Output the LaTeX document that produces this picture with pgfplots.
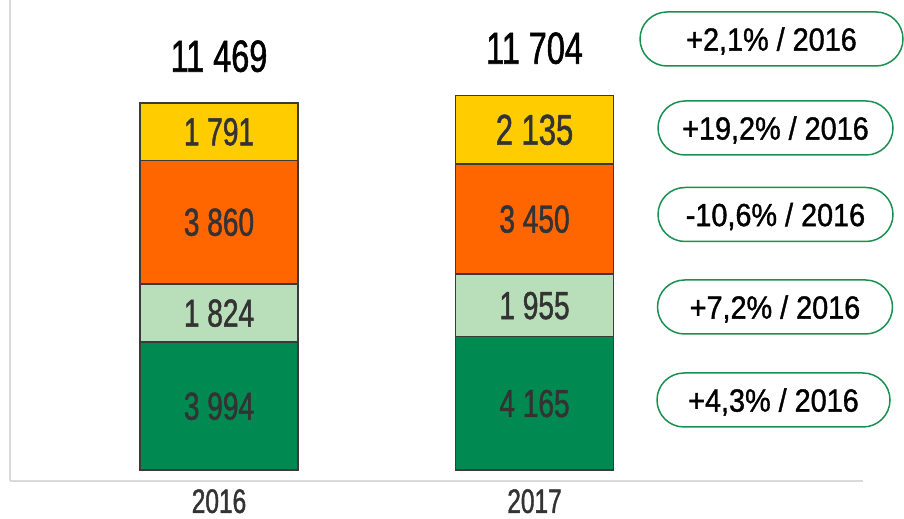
\documentclass[border=0pt]{standalone}
\usepackage{pgfplots}
\pgfplotsset{compat=1.18}
\usepackage{pgfplotstable}
\usepackage{fontspec}
\setmainfont{Liberation Sans}[FakeStretch=0.72, FakeBold=1.2]
\newfontfamily\callfont{Liberation Sans}[FakeStretch=0.9, FakeBold=1.2]
\usetikzlibrary{shapes.misc}
\definecolor{cYellow}{HTML}{FFCC00}
\definecolor{cOrange}{HTML}{FF6600}
\definecolor{cLight}{HTML}{B9DFBA}
\definecolor{cDark}{HTML}{008A51}
\definecolor{cEdge}{HTML}{3A3A3A}
\definecolor{cAxis}{HTML}{D9D9D9}
\definecolor{cCall}{HTML}{1A9050}
\definecolor{cLab}{HTML}{333333}

\pgfplotstableread{
x dark light orange yellow
0 3994 1824 3860 1791
1 4165 1955 3450 2135
}\bars

\pgfplotsset{
  base/.style={
    at={(10bp,38bp)}, anchor=south west,
    scale only axis, width=853bp, height=481bp,
    xmin=-0.6624, xmax=2.041, ymin=-344, ymax=14688,
    clip=false,
  },
  lab/.style={
    draw=none, mark=none, nodes near coords, point meta=explicit symbolic,
    nodes near coords style={anchor=center, inner sep=0pt, text depth=0pt, font=#1},
  },
}

\begin{document}
\begin{tikzpicture}
\useasboundingbox (0,0) rectangle (904bp,519bp);
\begin{axis}[
  base,
  ybar stacked, bar width=158bp,
  axis x line=bottom, axis y line=left,
  axis line style={draw=cAxis, line width=2bp, -},
  every outer x axis line/.append style={-},
  every outer y axis line/.append style={-},
  xtick={0,1}, xticklabels={2016,2017},
  major tick length=0pt,
  ytick=\empty,
  xticklabel style={font=\fontsize{34bp}{35bp}\selectfont, text=cLab, inner sep=0pt, yshift=-8bp, anchor=north},
]
\addplot[fill=cDark, draw=cEdge, line width=1.5bp] table[x=x,y=dark]{\bars};
\addplot[fill=cLight, draw=cEdge, line width=1.5bp] table[x=x,y=light]{\bars};
\addplot[fill=cOrange, draw=cEdge, line width=1.5bp] table[x=x,y=orange]{\bars};
\addplot[fill=cYellow, draw=cEdge, line width=1.5bp] table[x=x,y=yellow]{\bars};
\end{axis}
\begin{axis}[base, hide axis]
\addplot[lab={\fontsize{39bp}{40bp}\selectfont\color{cLab}}] coordinates {
 (0,1997) [3 994] (0,4906) [1 824] (0,7748) [3 860] (0,10573.5) [1 791]
 (1,2082.5) [4 165] (1,5142.5) [1 955] (1,7845) [3 450]
};
\addplot[lab={\fontsize{43bp}{44bp}\selectfont\color{cLab}}] coordinates {
 (1,10637.5) [2 135]
};
\addplot[lab={\fontsize{45bp}{46bp}\selectfont\color{black}}] coordinates {
 (0,12937) [11 469] (1,13187) [11 704]
};
\end{axis}
\tikzset{call/.style={rounded rectangle, draw=cCall, line width=1.5bp, minimum height=54bp, inner sep=0pt, text depth=0pt, font=\callfont\fontsize{32bp}{33bp}\selectfont}}
\node[call, minimum width=263bp] at (771.5bp,480bp) {+2,1\% / 2016};
\node[call, minimum width=235bp] at (775.5bp,391bp) {+19,2\% / 2016};
\node[call, minimum width=235bp] at (775.5bp,304.5bp) {-10,6\% / 2016};
\node[call, minimum width=235bp] at (775bp,212bp) {+7,2\% / 2016};
\node[call, minimum width=233bp] at (773.5bp,119bp) {+4,3\% / 2016};
\end{tikzpicture}
\end{document}
